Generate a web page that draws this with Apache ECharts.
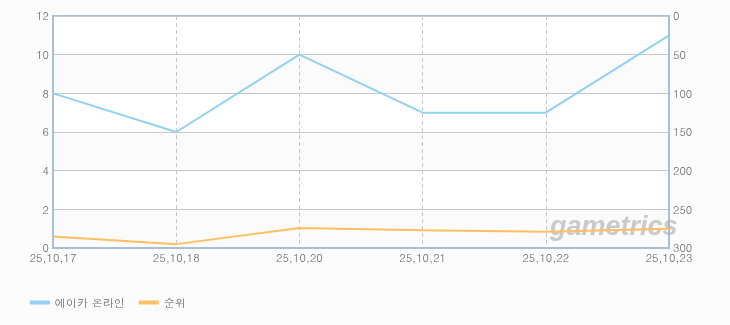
<!DOCTYPE html>
<html><head><meta charset="utf-8">
<script src="https://cdn.jsdelivr.net/npm/echarts@6/dist/echarts.min.js"></script>
<style>html,body{margin:0;padding:0;background:#fcfcfc}#c{width:730px;height:325px}</style>
</head><body><div id="c"></div>
<script>
const categories = ['25,10,17','25,10,18','25,10,20','25,10,21','25,10,22','25,10,23'];
const seriesNames = ['에이카 온라인','순위'];
const usersValues = [8, 6, 10, 7, 7, 11];
const rankValues = [285, 295, 274, 277, 279, 275];
const leftTicks = {min:0, max:12, interval:2};
const rightTicks = {min:0, max:300, interval:50};

const chart = echarts.init(document.getElementById('c'), null, {renderer:'canvas'});
const font = 'Dotum, "Noto Sans CJK KR", sans-serif';
chart.setOption({
  backgroundColor:'#fcfcfc',
  animation:false,
  grid:{left:53,right:61,top:16,bottom:77,show:true,backgroundColor:'#ffffff',borderColor:'#aabfd6',borderWidth:2,containLabel:false},
  legend:{left:25,top:292,icon:'rect',itemWidth:20,itemHeight:4,itemGap:14,
    textStyle:{color:'#666',fontSize:11,fontFamily:font},data:seriesNames},
  xAxis:{type:'category',boundaryGap:false,data:categories,
    axisLine:{show:true,lineStyle:{color:'#aabfd6',width:2}},
    axisTick:{show:false},
    axisLabel:{color:'#666',fontSize:11,fontFamily:font,margin:4,showMaxLabel:true,showMinLabel:true,interval:0},
    splitLine:{show:true,lineStyle:{color:'#c8c8c8',type:[4,3],width:1}}},
  yAxis:[
    {type:'value',min:leftTicks.min,max:leftTicks.max,interval:leftTicks.interval,
     axisLine:{show:true,lineStyle:{color:'#aabfd6',width:2}},axisTick:{show:false},
     axisLabel:{color:'#666',fontSize:11,fontFamily:font,margin:4},
     splitLine:{show:true,lineStyle:{color:'#c8c8c8',width:1}},
     splitArea:{show:true,areaStyle:{color:['#fbfbfb','#ffffff']}}},
    {type:'value',inverse:true,min:rightTicks.min,max:rightTicks.max,interval:rightTicks.interval,
     axisLine:{show:true,lineStyle:{color:'#aabfd6',width:2}},axisTick:{show:false},
     axisLabel:{color:'#666',fontSize:11,fontFamily:font,margin:4},
     splitLine:{show:false}}
  ],
  graphic:[{type:'text',left:550,top:214,z:1,
    style:{text:'gametrics',fill:'rgba(175,175,175,0.65)',font:'italic bold 27px Arial, sans-serif'}}],
  series:[
    {name:seriesNames[0],type:'line',data:usersValues,yAxisIndex:0,showSymbol:false,
     lineStyle:{color:'#92d1f2',width:2},itemStyle:{color:'#92d1f2'},z:3},
    {name:seriesNames[1],type:'line',data:rankValues,yAxisIndex:1,showSymbol:false,
     lineStyle:{color:'#fdbf5f',width:2},itemStyle:{color:'#fdbf5f'},z:3}
  ]
});
</script></body></html>
